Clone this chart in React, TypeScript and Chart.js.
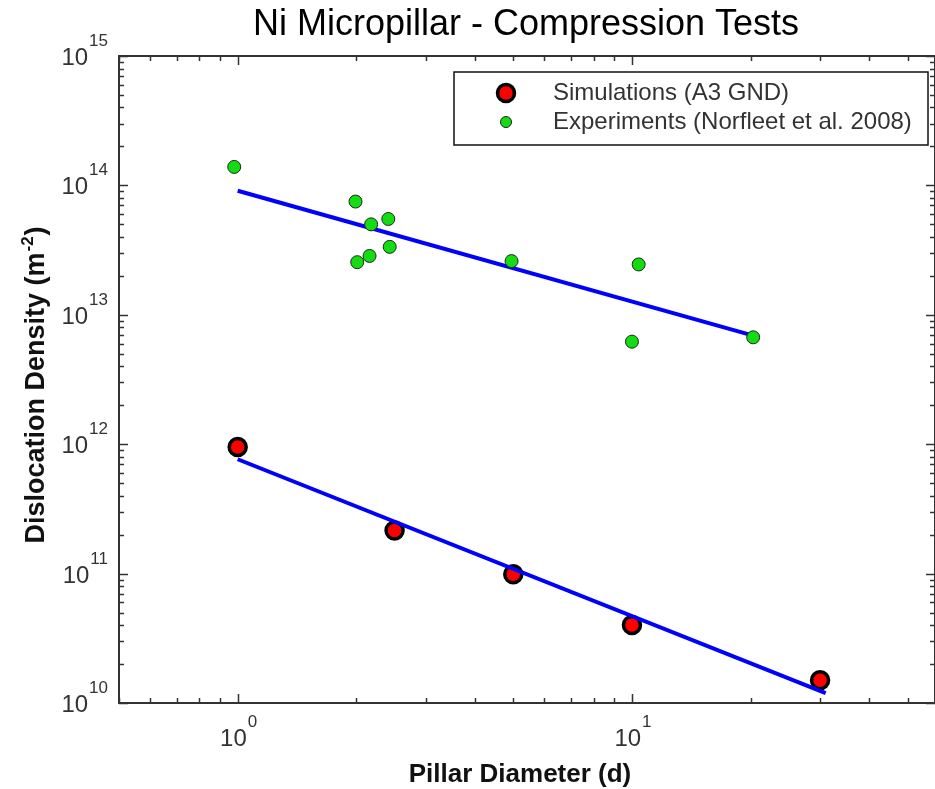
import React, { useEffect, useRef } from "react";
import { Chart, registerables } from "chart.js";

Chart.register(...registerables);

// ---- data ----
const simDiameter = [1, 2.5, 5, 10, 30];
const simDensity = [9.5e11, 2.15e11, 9.9e10, 4.0e10, 1.5e10];

const expDiameter = [0.98, 1.99, 2.18, 2.41, 2.43, 2.16, 2.01, 4.95, 10.4, 10, 20.3];
const expDensity = [1.39e14, 7.5e13, 5.0e13, 5.5e13, 3.35e13, 2.85e13, 2.55e13, 2.6e13, 2.45e13, 6.2e12, 6.7e12];

const simFitDiameter = [1, 31];
const simFitDensity = [7.65e11, 1.19e10];

const expFitDiameter = [1, 20];
const expFitDensity = [9.1e13, 7.0e12];

const xMin = 0.5;
const xMax = 58.7;
const yMin = 1e10;
const yMax = 1e15;

const xTickExponents = [0, 1];
const yTickExponents = [10, 11, 12, 13, 14, 15];

const titleText = "Ni Micropillar - Compression Tests";
const xTitle = "Pillar Diameter (d)";
const yTitleMain = "Dislocation Density (m";
const yTitleSup = "-2";
const yTitleEnd = ")";
const simLabel = "Simulations (A3 GND)";
const expLabel = "Experiments (Norfleet et al. 2008)";

const FONT = '"Liberation Sans", Arial, sans-serif';
const AXIS_COLOR = "#333333";
const TEXT_COLOR = "#333333";
const RED = "#ff0000";
const GREEN = "#11dd11";
const BLUE = "#0000ff";

function drawPow(
  ctx: CanvasRenderingContext2D,
  exp: string,
  x: number,
  baseline: number,
  align: "right" | "center",
  baseSize: number,
  supSize: number,
  rise: number
) {
  ctx.font = `${baseSize}px ${FONT}`;
  const wb = ctx.measureText("10").width;
  ctx.font = `${supSize}px ${FONT}`;
  const ws = ctx.measureText(exp).width;
  const total = wb + 1 + ws;
  const start = align === "right" ? x - total : x - total / 2;
  ctx.textAlign = "left";
  ctx.textBaseline = "alphabetic";
  ctx.font = `${baseSize}px ${FONT}`;
  ctx.fillText("10", start, baseline);
  ctx.font = `${supSize}px ${FONT}`;
  ctx.fillText(exp, start + wb + 1, baseline - rise);
}

function minorValues(min: number, max: number) {
  const out: { v: number; major: boolean }[] = [];
  const d0 = Math.floor(Math.log10(min));
  const d1 = Math.ceil(Math.log10(max));
  for (let d = d0; d <= d1; d++) {
    for (let m = 1; m <= 9; m++) {
      const v = m * Math.pow(10, d);
      if (v >= min * 0.999 && v <= max * 1.001) out.push({ v, major: m === 1 });
    }
  }
  return out;
}

function drawMarker(ctx: CanvasRenderingContext2D, x: number, y: number, r: number, fill: string, stroke: string, lw: number) {
  ctx.beginPath();
  ctx.arc(x, y, r, 0, Math.PI * 2);
  ctx.fillStyle = fill;
  ctx.fill();
  ctx.lineWidth = lw;
  ctx.strokeStyle = stroke;
  ctx.stroke();
}

const framePlugin = {
  id: "customFrame",
  beforeDatasetsDraw(chart: any) {
    const { ctx, chartArea: a, scales } = chart;
    const xs = scales.x;
    const ys = scales.y;
    ctx.save();
    ctx.strokeStyle = AXIS_COLOR;
    ctx.lineWidth = 2;
    ctx.strokeRect(a.left, a.top, a.right - a.left, a.bottom - a.top);
    ctx.lineWidth = 1.5;
    ctx.beginPath();
    for (const t of minorValues(xMin, xMax)) {
      const px = Math.round(xs.getPixelForValue(t.v)) + 0.5;
      const len = t.major ? 9 : 5;
      ctx.moveTo(px, a.bottom);
      ctx.lineTo(px, a.bottom - len);
      ctx.moveTo(px, a.top);
      ctx.lineTo(px, a.top + len);
    }
    for (const t of minorValues(yMin, yMax)) {
      const py = Math.round(ys.getPixelForValue(t.v)) + 0.5;
      const len = t.major ? 9 : 5;
      ctx.moveTo(a.left, py);
      ctx.lineTo(a.left + len, py);
      ctx.moveTo(a.right, py);
      ctx.lineTo(a.right - len, py);
    }
    ctx.stroke();
    ctx.restore();
  },
  afterDraw(chart: any) {
    const { ctx, scales } = chart;
    const xs = scales.x;
    const ys = scales.y;
    ctx.save();
    ctx.fillStyle = TEXT_COLOR;
    // y tick labels
    for (const e of yTickExponents) {
      const py = ys.getPixelForValue(Math.pow(10, e));
      drawPow(ctx, String(e), 108, py + 9, "right", 24, 17, 19);
    }
    // x tick labels
    for (const e of xTickExponents) {
      const px = xs.getPixelForValue(Math.pow(10, e));
      drawPow(ctx, String(e), px + 1, 746, "center", 24, 17, 19);
    }
    // title
    ctx.fillStyle = "#000000";
    ctx.textAlign = "center";
    ctx.textBaseline = "alphabetic";
    ctx.font = `36px ${FONT}`;
    ctx.fillText(titleText, 526, 35);
    // x title
    ctx.fillStyle = "#111111";
    ctx.font = `bold 26px ${FONT}`;
    ctx.fillText(xTitle, 520, 782);
    // y title rotated
    ctx.save();
    ctx.translate(44, 385);
    ctx.rotate(-Math.PI / 2);
    ctx.textAlign = "left";
    ctx.font = `bold 27px ${FONT}`;
    const w1 = ctx.measureText(yTitleMain).width;
    const w3 = ctx.measureText(yTitleEnd).width;
    ctx.font = `bold 17px ${FONT}`;
    const w2 = ctx.measureText(yTitleSup).width;
    const total = w1 + w2 + w3 + 2;
    let sx = -total / 2;
    ctx.font = `bold 27px ${FONT}`;
    ctx.fillText(yTitleMain, sx, 0);
    sx += w1 + 1;
    ctx.font = `bold 17px ${FONT}`;
    ctx.fillText(yTitleSup, sx, -11);
    sx += w2 + 1;
    ctx.font = `bold 27px ${FONT}`;
    ctx.fillText(yTitleEnd, sx, 0);
    ctx.restore();
    // legend
    ctx.fillStyle = "#ffffff";
    ctx.fillRect(454, 72, 474, 73);
    ctx.strokeStyle = "#111111";
    ctx.lineWidth = 1.5;
    ctx.strokeRect(454, 72, 474, 73);
    drawMarker(ctx, 506, 93, 8.5, RED, "#000000", 3.5);
    drawMarker(ctx, 506, 122, 5.5, GREEN, "#222222", 1);
    ctx.fillStyle = TEXT_COLOR;
    ctx.textAlign = "left";
    ctx.textBaseline = "middle";
    ctx.font = `24px ${FONT}`;
    ctx.fillText(simLabel, 553, 93);
    ctx.fillText(expLabel, 553, 122);
    ctx.restore();
  },
};

export default function App() {
  const ref = useRef<HTMLCanvasElement>(null);
  useEffect(() => {
    const canvas = ref.current;
    if (!canvas) return;
    const toPts = (xs: number[], ys: number[]) => xs.map((v, i) => ({ x: v, y: ys[i] }));
    const chart = new Chart(canvas, {
      type: "scatter",
      data: {
        datasets: [
          {
            label: expLabel,
            data: toPts(expDiameter, expDensity),
            pointRadius: 6.5,
            pointBackgroundColor: GREEN,
            pointBorderColor: "#222222",
            pointBorderWidth: 1,
            order: 0,
          },
          {
            label: "Experiments fit",
            data: toPts(expFitDiameter, expFitDensity),
            showLine: true,
            borderColor: BLUE,
            borderWidth: 4,
            pointRadius: 0,
            order: 1,
          },
          {
            label: "Simulations fit",
            data: toPts(simFitDiameter, simFitDensity),
            showLine: true,
            borderColor: BLUE,
            borderWidth: 4,
            pointRadius: 0,
            order: 2,
          },
          {
            label: simLabel,
            data: toPts(simDiameter, simDensity),
            pointRadius: 8.5,
            pointBackgroundColor: RED,
            pointBorderColor: "#000000",
            pointBorderWidth: 3.5,
            order: 3,
          },
        ],
      },
      options: {
        responsive: false,
        animation: false,
        events: [],
        devicePixelRatio: 1,
        layout: { autoPadding: false, padding: { left: 119, top: 56, right: -3, bottom: 86 } },
        scales: {
          x: { type: "logarithmic", min: xMin, max: xMax, display: false },
          y: { type: "logarithmic", min: yMin, max: yMax, display: false },
        },
        plugins: {
          legend: { display: false },
          tooltip: { enabled: false },
          title: { display: false },
        },
      },
      plugins: [framePlugin],
    } as any);
    return () => chart.destroy();
  }, []);
  return (
    <div
      style={{
        position: "fixed",
        left: 0,
        top: 0,
        width: 935,
        height: 789,
        overflow: "hidden",
        background: "#ffffff",
      }}
    >
      <canvas ref={ref} width={935} height={789} style={{ display: "block", width: 935, height: 789 }} />
    </div>
  );
}
